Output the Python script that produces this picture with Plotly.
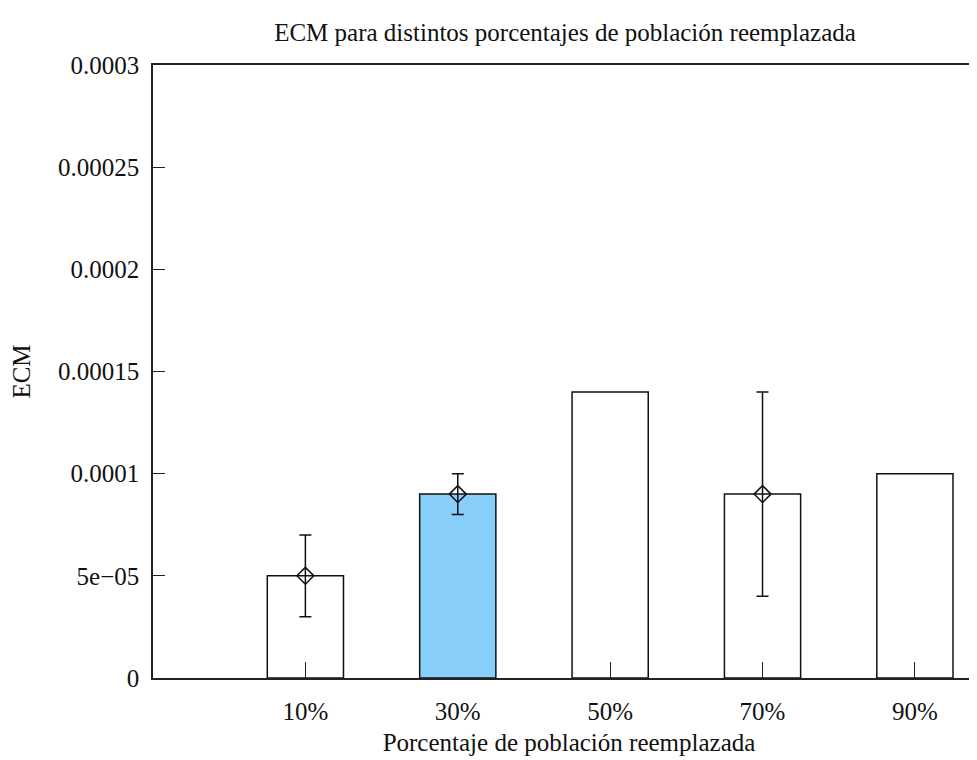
import plotly.graph_objects as go

categories = ["10%", "30%", "50%", "70%", "90%"]
ecm = [5e-05, 9e-05, 1.4e-04, 9e-05, 1e-04]
bar_colors = ["rgba(0,0,0,0)", "#87CEFA", "rgba(0,0,0,0)", "rgba(0,0,0,0)", "rgba(0,0,0,0)"]

# points with error bars
err_idx = [0, 1, 3]
err_val = [5e-05, 9e-05, 9e-05]
err_hi = [7e-05, 1e-04, 1.4e-04]
err_lo = [3e-05, 8e-05, 4e-05]

ytick_vals = [0, 5e-05, 1e-04, 1.5e-04, 2e-04, 2.5e-04, 3e-04]
ytick_text = ["0", "5e\u221205", "0.0001", "0.00015", "0.0002", "0.00025", "0.0003"]

FONT = "'Liberation Serif', 'Times New Roman', 'DejaVu Serif', serif"
FS = 25
idx = list(range(len(categories)))

fig = go.Figure()
fig.add_trace(go.Bar(
    x=idx, y=ecm, width=0.5,
    marker=dict(color=bar_colors, line=dict(color="#111", width=1.5)),
    showlegend=False,
))
fig.add_trace(go.Scatter(
    x=err_idx, y=err_val, mode="markers",
    marker=dict(symbol="diamond-open", size=13, color="#111", line=dict(width=1.5, color="#111")),
    error_y=dict(type="data", symmetric=False,
                 array=[h - v for h, v in zip(err_hi, err_val)],
                 arrayminus=[v - l for l, v in zip(err_lo, err_val)],
                 color="#111", thickness=1.5, width=6),
    showlegend=False,
))

fig.update_layout(
    width=977, height=760,
    margin=dict(l=145, r=0, t=57, b=90),
    paper_bgcolor="white", plot_bgcolor="white",
    font=dict(family=FONT, size=FS, color="#111"),
    title=dict(text="ECM para distintos porcentajes de población reemplazada",
               x=557 / 977, xanchor="center", xref="container",
               y=1 - 24 / 760, yref="container", yanchor="middle",
               font=dict(family=FONT, size=FS, color="#111")),
    xaxis=dict(range=[-1, 4.46], tickvals=idx, ticktext=categories,
               showgrid=False, zeroline=False, showline=True, linecolor="#222", linewidth=1.5,
               mirror=True, ticks="inside", ticklen=16, tickwidth=1.2, tickcolor="#222",
               ticklabelstandoff=10, layer="below traces",
               tickfont=dict(family=FONT, size=FS),
               title=dict(text="Porcentaje de población reemplazada", standoff=10,
                          font=dict(family=FONT, size=FS))),
    yaxis=dict(range=[0, 3e-04], tickvals=ytick_vals, ticktext=ytick_text,
               showgrid=False, zeroline=False, showline=True, linecolor="#222", linewidth=1.5,
               ticks="inside", ticklen=12, tickwidth=1.2, tickcolor="#222",
               ticklabelstandoff=7,
               tickfont=dict(family=FONT, size=FS),
               title=dict(text="ECM", standoff=28, font=dict(family=FONT, size=FS))),
)

fig.write_html("out.html")
